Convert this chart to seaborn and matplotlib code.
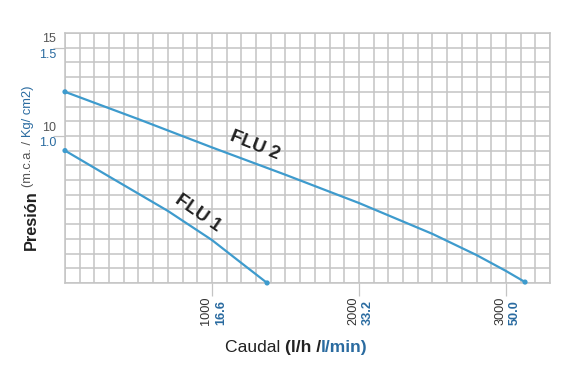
import numpy as np
import pandas as pd
import matplotlib
matplotlib.use("Agg")
import matplotlib.pyplot as plt
import seaborn as sns

# ---------------- data ----------------
series_names = ["FLU 1", "FLU 2"]
flow_flu1 = [0, 300, 700, 1000, 1200, 1375]
pres_flu1 = [9.17, 7.7, 5.75, 4.1, 2.8, 1.67]
flow_flu2 = [0, 500, 1000, 1500, 2000, 2500, 2800, 3000, 3130]
pres_flu2 = [12.5, 10.95, 9.35, 7.8, 6.2, 4.45, 3.25, 2.35, 1.72]

x_ticks = [1000, 2000, 3000]
x_tick_lh = ["1000", "2000", "3000"]
x_tick_lmin = ["16.6", "33.2", "50.0"]
y_ticks = [10, 15]
y_tick_m = ["10", "15"]
y_tick_kg = ["1.0", "1.5"]

label_pos = {"FLU 1": (905, 5.6, -35), "FLU 2": (1293, 9.47, -22)}

df = pd.concat([
    pd.DataFrame({"Caudal": flow_flu1, "Presion": pres_flu1, "serie": series_names[0]}),
    pd.DataFrame({"Caudal": flow_flu2, "Presion": pres_flu2, "serie": series_names[1]}),
])
ends = df.groupby("serie").nth([0, -1])

# ---------------- style ----------------
sns.set_theme(style="white")
plt.rcParams["font.family"] = ["Liberation Sans", "DejaVu Sans"]

LINE = "#3e9bcd"
GRID = "#c4c4c4"
DARK = "#333333"
GRAY = "#555555"
BLUE = "#2a6ba0"

fig = plt.figure(figsize=(5.88, 3.79), dpi=100)
W, H = 588, 379
ax = fig.add_axes([65 / W, (H - 283) / H, 485 / W, 250 / H])

pal = {n: LINE for n in series_names}
sns.lineplot(data=df, x="Caudal", y="Presion", hue="serie", palette=pal,
             sort=False, linewidth=1.6, legend=False, ax=ax, zorder=3)
sns.scatterplot(data=ends, x="Caudal", y="Presion", hue="serie", palette=pal,
                s=14, linewidth=0, legend=False, ax=ax, zorder=4, clip_on=False)

ymin, ymax = 10 - 10 * 5 / 6, 15 + 5 / 6
ax.set_xlim(0, 3300)
ax.set_ylim(ymin, ymax)
ax.set_xticks(np.arange(0, 3301, 100), minor=True)
ax.set_yticks(np.arange(ymin, ymax + 0.01, 5 / 6), minor=True)
ax.set_xticks(x_ticks)
ax.set_yticks(y_ticks)
ax.set_xticklabels([])
ax.set_yticklabels([])
ax.grid(True, which="both", color=GRID, linewidth=1.1)
ax.tick_params(which="major", length=9, width=0.9, color=GRID,
               bottom=True, left=True)
ax.tick_params(which="minor", length=0)
for s in ax.spines.values():
    s.set_color(GRID)
    s.set_linewidth(1.1)
ax.set_xlabel("")
ax.set_ylabel("")

# y tick labels
for v, m, k in zip(y_ticks, y_tick_m, y_tick_kg):
    ax.annotate(m, xy=(0, v), xycoords=("axes fraction", "data"),
                xytext=(-6.5, 6.0), textcoords="offset points",
                ha="right", va="center", fontsize=9, color=GRAY)
    ax.annotate(k, xy=(0, v), xycoords=("axes fraction", "data"),
                xytext=(-6.5, -5.4), textcoords="offset points",
                ha="right", va="center", fontsize=9, color=BLUE)

# x tick labels (vertical)
for v, a, b in zip(x_ticks, x_tick_lh, x_tick_lmin):
    ax.annotate(a, xy=(v, 0), xycoords=("data", "axes fraction"),
                xytext=(-4.0, -30.0), textcoords="offset points",
                ha="center", va="bottom", rotation=90, fontsize=9.2,
                color=DARK)
    ax.annotate(b, xy=(v, 0), xycoords=("data", "axes fraction"),
                xytext=(6.5, -30.0), textcoords="offset points",
                ha="center", va="bottom", rotation=90, fontsize=9.2,
                color=BLUE, fontweight="bold")

# curve labels
for name, (x, y, r) in label_pos.items():
    ax.text(x, y, name, rotation=r, rotation_mode="anchor", ha="center",
            va="center", fontsize=13.5, fontweight="bold", color="#222222")

# axis titles composed of coloured pieces
fig.canvas.draw()
rend = fig.canvas.get_renderer()


def chain(pieces, x0, y0, rotation=0):
    x, y = x0, y0
    for txt, kw in pieces:
        t = fig.text(x / W, y / H, txt, rotation=rotation,
                     rotation_mode="anchor", ha="left", va="baseline", **kw)
        bb = t.get_window_extent(rend)
        if rotation == 0:
            x += bb.width
        else:
            y += bb.height


chain([("Caudal ", dict(fontsize=12.6, color="#222222")),
       ("(l/h /", dict(fontsize=12.6, color="#222222", fontweight="bold")),
       ("l/min)", dict(fontsize=12.6, color=BLUE, fontweight="bold"))],
      225, H - 352)

chain([("Presión", dict(fontsize=11.8, color="#222222", fontweight="bold"))],
      36, H - 250, rotation=90)
chain([("(m.c.a. / ", dict(fontsize=9.3, color=GRAY)),
       ("Kg/ cm2)", dict(fontsize=9.3, color=BLUE))],
      31, H - 187, rotation=90)

fig.savefig("out.png", dpi=100, facecolor="white")
